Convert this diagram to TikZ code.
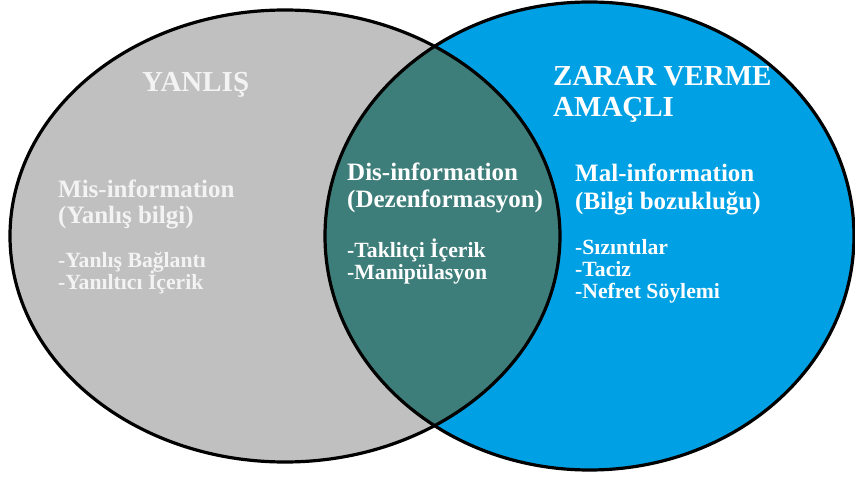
\documentclass[tikz,border=0pt]{standalone}
\usepackage{fontspec}
\setmainfont{Liberation Serif}
\definecolor{grayfill}{HTML}{C0C0C0}
\definecolor{bluefill}{HTML}{00A1E4}
\definecolor{tealfill}{HTML}{3E7E7A}
\definecolor{offwhite}{HTML}{F3F3F3}
\tikzset{
  outline/.style={draw=black, line width=3.2pt},
  headtext/.style={anchor=base west, inner sep=0pt, font=\fontsize{29}{31}\selectfont\bfseries},
  titletext/.style={anchor=base west, inner sep=0pt, font=\fontsize{25}{27}\selectfont\bfseries},
  itemtext/.style={anchor=base west, inner sep=0pt, font=\fontsize{21.7}{23}\selectfont\bfseries},
}
\begin{document}
\begin{tikzpicture}[x=1pt,y=-1pt]
\useasboundingbox (0,0) rectangle (855,481);
% fills
\fill[grayfill] (285,236) ellipse [x radius=275pt, y radius=226pt];
\fill[bluefill] (589.5,236) ellipse [x radius=264.5pt, y radius=234pt];
\begin{scope}
  \clip (285,236) ellipse [x radius=275pt, y radius=226pt];
  \fill[tealfill] (589.5,236) ellipse [x radius=264.5pt, y radius=234pt];
\end{scope}
% outlines
\draw[outline] (285,236) ellipse [x radius=275pt, y radius=226pt];
\draw[outline] (589.5,236) ellipse [x radius=264.5pt, y radius=234pt];
% headers
\node[headtext, text=offwhite] (yanlis) at (142,92) {YANLIŞ};
\node[headtext, text=white] (zarar1) at (553,86) {ZARAR VERME};
\node[headtext, text=white] (zarar2) at (553,117) {AMAÇLI};
% left block
\node[titletext, text=offwhite] (mis1) at (58,198) {Mis-information};
\node[titletext, text=offwhite] (mis2) at (58,224) {(Yanlış bilgi)};
\node[itemtext, text=offwhite] (misa) at (58,268) {-Yanlış Bağlantı};
\node[itemtext, text=offwhite] (misb) at (58,290) {-Yanıltıcı İçerik};
% middle block
\node[titletext, text=white] (dis1) at (347,181) {Dis-information};
\node[titletext, text=white] (dis2) at (347,208) {(Dezenformasyon)};
\node[itemtext, text=white] (disa) at (347,258) {-Taklitçi İçerik};
\node[itemtext, text=white] (disb) at (347,280) {-Manipülasyon};
% right block
\node[titletext, text=white] (mal1) at (575,182) {Mal-information};
\node[titletext, text=white] (mal2) at (575,210) {(Bilgi bozukluğu)};
\node[itemtext, text=white] (mala) at (575,255) {-Sızıntılar};
\node[itemtext, text=white] (malb) at (575,277) {-Taciz};
\node[itemtext, text=white] (malc) at (575,299) {-Nefret Söylemi};
\end{tikzpicture}
\end{document}
